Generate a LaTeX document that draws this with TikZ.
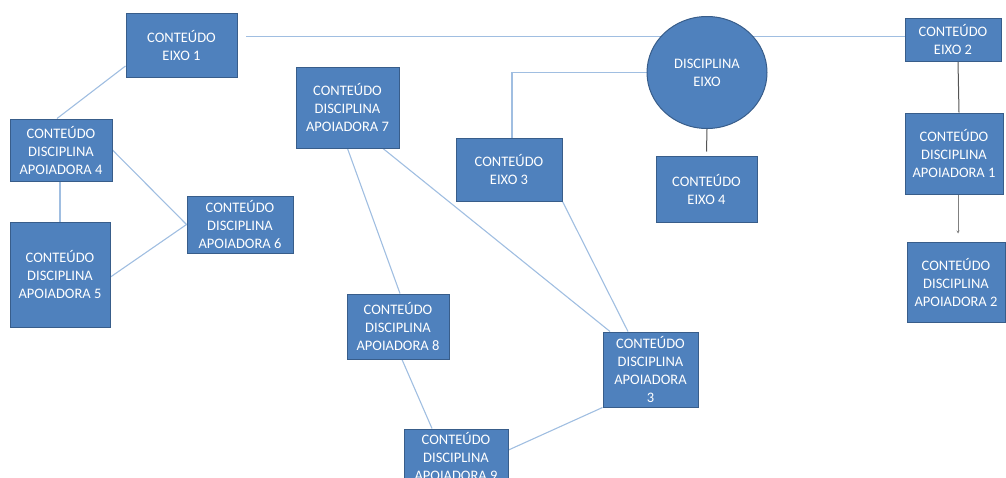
\documentclass[tikz,border=0pt]{standalone}
\usepackage{fontspec}
\setmainfont{Carlito}
\usetikzlibrary{shapes.geometric,arrows.meta,backgrounds}
\definecolor{boxblue}{RGB}{79,129,189}
\definecolor{boxline}{RGB}{56,93,138}
\definecolor{linkblue}{RGB}{160,190,225}
\definecolor{linkgrey}{RGB}{85,85,85}

\begin{document}
\begin{tikzpicture}[x=1pt,y=-1pt,
		box/.style={draw=boxline, line width=1pt, fill=boxblue, text=white, align=center, inner sep=0pt, font=\fontsize{14.5}{18}\selectfont},
		link/.style={draw=linkblue, line width=1.1pt},
		darklink/.style={draw=linkgrey, line width=1pt}]
		%%%%% START %%%%%
		
		\useasboundingbox (0,0) rectangle (1006,477);
		
		\node[box, minimum width=111pt, minimum height=64pt] (eixo1) at (181.5,45) {CONTEÚDO\\EIXO 1};
		\node[box, minimum width=96pt, minimum height=43pt] (eixo2) at (953,39.5) {CONTEÚDO\\EIXO 2};
		\node[box, minimum width=106pt, minimum height=63pt] (eixo3) at (509,169.5) {CONTEÚDO\\EIXO 3};
		\node[box, minimum width=101pt, minimum height=66pt] (eixo4) at (706.5,189) {CONTEÚDO\\EIXO 4};
		
		\node[box, ellipse, minimum width=120pt, minimum height=112pt] (disc) at (707,72.5) {DISCIPLINA\\EIXO};
		
		\node[box, minimum width=98pt, minimum height=81pt] (ap1) at (954,153.5) {CONTEÚDO\\DISCIPLINA\\APOIADORA 1};
		\node[box, minimum width=98pt, minimum height=80pt] (ap2) at (956,282) {CONTEÚDO\\DISCIPLINA\\APOIADORA 2};
		\node[box, minimum width=95pt, minimum height=75pt] (ap3) at (650.5,369.5) {CONTEÚDO\\DISCIPLINA\\APOIADORA\\3};
		\node[box, minimum width=102pt, minimum height=62pt] (ap4) at (61,150) {CONTEÚDO\\DISCIPLINA\\APOIADORA 4};
		\node[box, minimum width=100pt, minimum height=105pt] (ap5) at (60,274.5) {CONTEÚDO\\DISCIPLINA\\APOIADORA 5};
		\node[box, minimum width=106pt, minimum height=57pt] (ap6) at (240,224.5) {CONTEÚDO\\DISCIPLINA\\APOIADORA 6};
		\node[box, minimum width=103pt, minimum height=81pt] (ap7) at (347.5,107.5) {CONTEÚDO\\DISCIPLINA\\APOIADORA 7};
		\node[box, minimum width=102pt, minimum height=65pt] (ap8) at (398,326.5) {CONTEÚDO\\DISCIPLINA\\APOIADORA 8};
		\node[box, minimum width=104pt, minimum height=54pt] (ap9) at (456,456) {CONTEÚDO\\DISCIPLINA\\APOIADORA 9};
		
		\begin{scope}[on background layer]
		\draw[link, line width=0.8pt] ([yshift=3.5pt]eixo2.west) -- ([xshift=8pt,yshift=9pt]eixo1.east);
		\draw[link] (disc.west) -| ([xshift=3pt]eixo3.north);
		\draw[darklink] (disc.south) -- ([yshift=4pt]eixo4.north);
		\draw[darklink] ([xshift=5pt]eixo2.south) -- ([xshift=5pt]ap1.north);
		\draw[draw=gray, line width=0.6pt, -{Stealth[length=3pt,width=3pt]}] ([xshift=4pt]ap1.south) -- ([xshift=2pt,yshift=8pt]ap2.north);
		
		\draw[link] ([yshift=-21pt]eixo1.west) -- ([xshift=-4pt]ap4.north);
		\draw[link] ([xshift=-1pt]ap4.south) -- (ap5.north);
		\draw[link] (ap4.east) -- (ap6.west);
		\draw[link] ([yshift=-2.5pt]ap5.east) -- (ap6.west);
		
		\draw[link] (ap7.south) -- ([xshift=2pt]ap8.north);
		\draw[link] ([xshift=35.5pt]ap7.south) -- ([xshift=-40.5pt]ap3.north);
		\draw[link] (eixo3.south east) -- ([xshift=-22.5pt]ap3.north);
		\draw[link] ([xshift=4pt]ap8.south) -- ([xshift=-24pt]ap9.north);
		\draw[link] ([yshift=6pt]ap9.east) -- (ap3.south west);
		\end{scope}
		
		%%%%% END %%%%%
\end{tikzpicture}
\end{document}
